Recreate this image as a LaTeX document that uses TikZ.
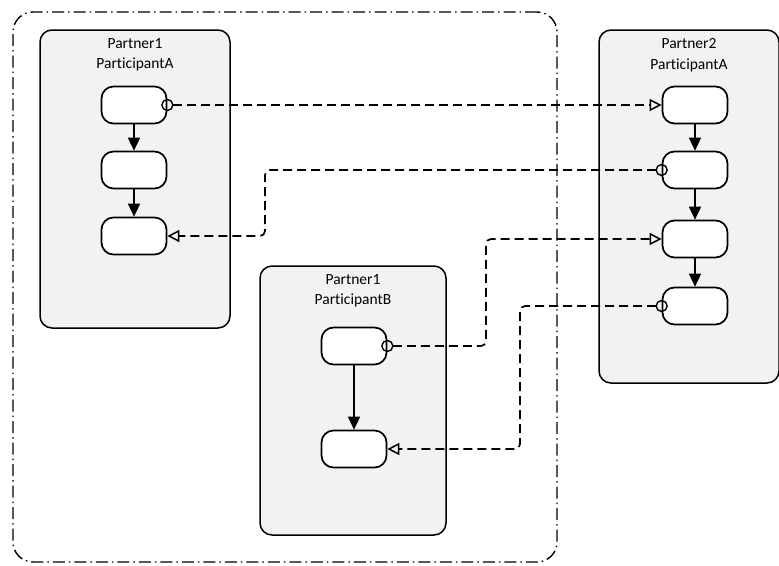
\documentclass[tikz,border=0pt]{standalone}
\usepackage{fontspec}
\setmainfont[Ligatures=CommonOff]{Carlito}
\usetikzlibrary{arrows.meta}
\begin{document}
\begin{tikzpicture}[x=1pt,y=-1pt,
  lane/.style={draw=black, line width=1.5pt, fill=black!5, rounded corners=12pt, inner sep=0pt},
  task/.style={draw=black, line width=1.7pt, fill=white, rounded corners=12pt,
    minimum width=65pt, minimum height=37pt, inner sep=0pt},
  lanetitle/.style={anchor=north, align=center, font=\fontsize{15.5}{20.5}\selectfont, inner sep=0pt},
  flow/.style={line width=1.7pt, -{Triangle[width=12pt,length=13pt]}},
  msg/.style={line width=1.7pt, dash pattern=on 9pt off 5pt, rounded corners=5pt,
    -{Triangle[open,width=12pt,length=12pt,line width=1.5pt]}},
  msgstart/.style={line width=1.4pt, fill=none},
  group/.style={line width=1.4pt, rounded corners=20pt,
    dash pattern=on 12pt off 4pt on 1.5pt off 4pt}
]
\useasboundingbox (0,0) rectangle (779,565);

% dash-dot group around partner 1
\node[group, draw, minimum width=544pt, minimum height=550pt, inner sep=0pt] (grp) at (285,287) {};

% participant lanes
\node[lane, minimum width=190pt, minimum height=298pt] (laneA) at (135,179) {};
\node[lane, minimum width=180pt, minimum height=353pt] (laneC) at (689,206.5) {};
\node[lane, minimum width=186pt, minimum height=269pt] (laneB) at (353,400.5) {};

\node[lanetitle] (tA) at ([yshift=-9pt]laneA.north) {Partner1\\ParticipantA};
\node[lanetitle] (tC) at ([yshift=-9pt]laneC.north) {Partner2\\ParticipantA};
\node[lanetitle] (tB) at ([yshift=-9pt]laneB.north) {Partner1\\ParticipantB};

% tasks
\node[task] (a1) at (134,105) {};
\node[task] (a2) at (134,170) {};
\node[task] (a3) at (134,236) {};

\node[task] (c1) at (695,105) {};
\node[task] (c2) at (695,170) {};
\node[task] (c3) at (695,239) {};
\node[task] (c4) at (695,306) {};

\node[task] (b1) at (354,346) {};
\node[task] (b2) at (354,449) {};

% sequence flows
\draw[flow] (a1) -- (a2);
\draw[flow] (a2) -- (a3);
\draw[flow] (c1) -- (c2);
\draw[flow] (c2) -- (c3);
\draw[flow] (c3) -- (c4);
\draw[flow] (b1) -- (b2);

% message flows
\coordinate (k2) at (265,170);
\coordinate (k3) at (486,239);
\coordinate (k4) at (520,306);

\draw[msg] ([xshift=5.5pt]a1.east) -- (c1.west);
\draw[msg] ([xshift=-5.5pt]c2.west) -- (k2) |- (a3.east);
\draw[msg] ([xshift=5.5pt]b1.east) -| (k3) -- (c3.west);
\draw[msg] ([xshift=-5.5pt]c4.west) -- (k4) |- (b2.east);

\draw[msgstart] (a1.east) circle (5.5pt);
\draw[msgstart] (c2.west) circle (5.5pt);
\draw[msgstart] (b1.east) circle (5.5pt);
\draw[msgstart] (c4.west) circle (5.5pt);
\end{tikzpicture}
\end{document}
